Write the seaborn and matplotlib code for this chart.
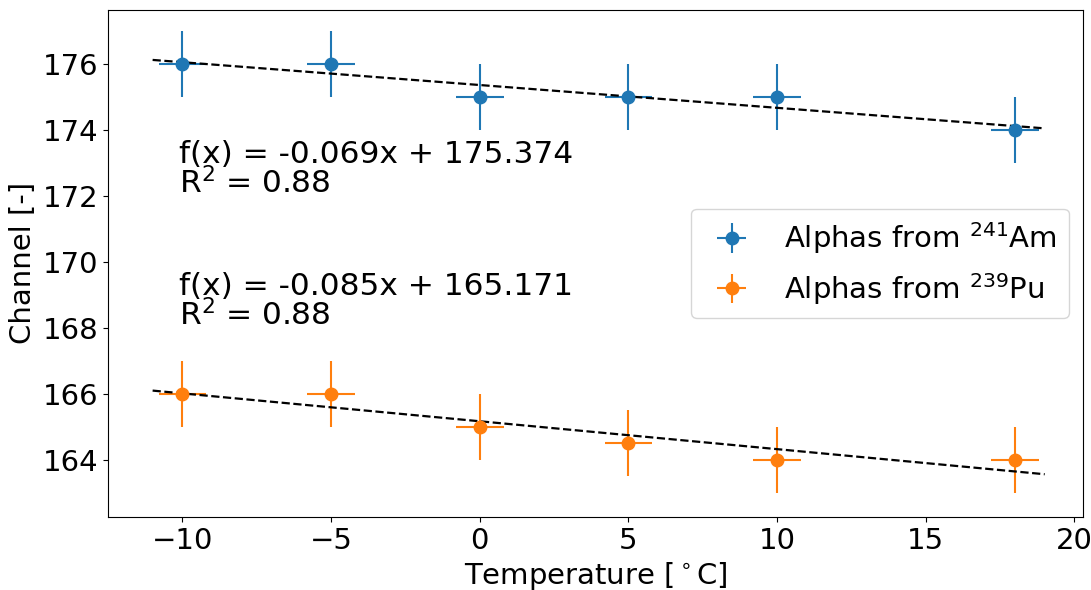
import numpy as np
import pandas as pd
import matplotlib
matplotlib.use("Agg")
import matplotlib.pyplot as plt
import seaborn as sns

# measured peak positions vs temperature
temps = [-10, -5, 0, 5, 10, 18]
am_channel = [176, 176, 175, 175, 175, 174]
pu_channel = [166, 166, 165, 164.5, 164, 164]
temp_err = [0.8, 0.8, 0.8, 0.8, 0.8, 0.8]
am_err = [1, 1, 1, 1, 1, 1]
pu_err = [1, 1, 1, 1, 1, 1]

am_label = "Alphas from $^{241}$Am"
pu_label = "Alphas from $^{239}$Pu"

sns.set_style("ticks")
plt.rcParams["font.family"] = ["DejaVu Sans"]
plt.rcParams["font.size"] = 21
for key in ["text.color", "axes.labelcolor", "xtick.color", "ytick.color", "axes.edgecolor"]:
    plt.rcParams[key] = "black"
plt.rcParams["axes.linewidth"] = 0.8

fig, ax = plt.subplots(figsize=(10.91, 5.9), dpi=100)
fig.subplots_adjust(left=0.099, right=0.993, top=0.983, bottom=0.124)

colors = sns.color_palette("tab10")

ax.errorbar(temps, am_channel, xerr=temp_err, yerr=am_err, fmt="o", ms=9,
            elinewidth=1.5, color=colors[0], label=am_label)
ax.errorbar(temps, pu_channel, xerr=temp_err, yerr=pu_err, fmt="o", ms=9,
            elinewidth=1.5, color=colors[1], label=pu_label)

# linear fits
x_fit = np.linspace(-11, 19, 50)
texts_y = [172.8, 168.8]
for vals, ty in zip([am_channel, pu_channel], texts_y):
    slope, inter = np.polyfit(temps, vals, 1)
    r2 = np.corrcoef(temps, vals)[0, 1] ** 2
    fit_df = pd.DataFrame({"x": x_fit, "y": slope * x_fit + inter})
    sns.lineplot(data=fit_df, x="x", y="y", ax=ax, color="black",
                 linestyle="--", linewidth=1.6, legend=False)
    ax.text(-10.1, ty, f"f(x) = {slope:.3f}x + {inter:.3f}\nR$^2$ = {r2:.2f}",
            va="center", ha="left", fontsize=22.5, linespacing=0.92)

ax.set_xlim(-12.5, 20.3)
ax.set_ylim(162.27, 177.65)
ax.set_yticks([164, 166, 168, 170, 172, 174, 176])
ax.tick_params(labelsize=21)
ax.set_xlabel("Temperature [$^\\circ$C]", fontsize=21)
ax.set_ylabel("Channel [-]", fontsize=21)
ax.legend(loc="center right", fontsize=21, frameon=True)

fig.savefig("out.png", dpi=100)
